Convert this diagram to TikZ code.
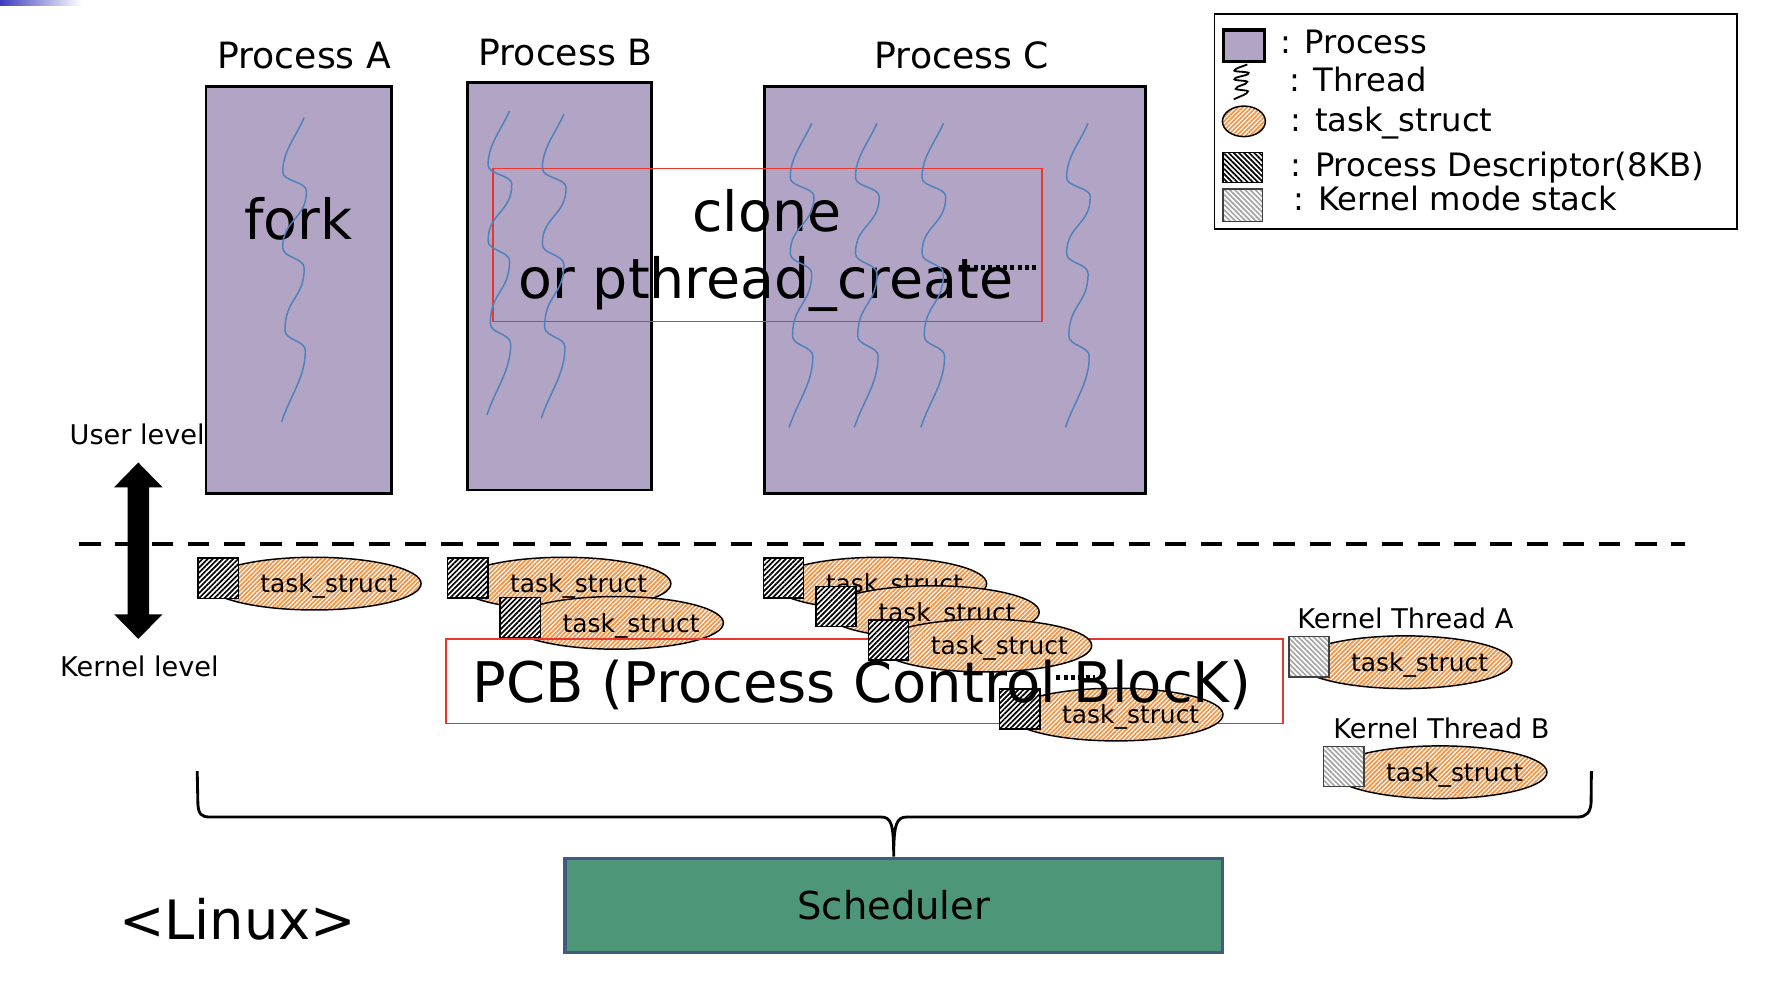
\documentclass[tikz,border=0pt]{standalone}
\usepackage{fontspec}
\setmainfont{DejaVu Sans}
\usetikzlibrary{patterns.meta,shapes.geometric}
\definecolor{procfill}{RGB}{177,164,196}
\definecolor{thrblue}{RGB}{79,129,189}
\definecolor{pcbred}{RGB}{232,55,45}
\definecolor{taskor}{RGB}{240,150,75}
\definecolor{schedg}{RGB}{78,150,120}
\definecolor{schedb}{RGB}{65,90,130}
\definecolor{kmsgray}{RGB}{165,165,165}
\definecolor{barblue}{RGB}{60,60,190}
\newcommand\fsz[1]{\fontsize{#1}{#1}\selectfont}
\tikzset{
  thread/.pic={
    \path[pic actions] (0,0) .. controls (-8,18) and (-19,30) .. (-19,48)
      .. controls (-19,56.5) and (2,56.5) .. (2,65)
      .. controls (2,90) and (-19,90) .. (-19,115)
      .. controls (-19,124) and (0,124) .. (0,133)
      .. controls (0,160) and (-17,160) .. (-17,188)
      .. controls (-17,197) and (1,197) .. (1,206)
      .. controls (1,230) and (-12,245) .. (-20,269);
  },
  procbox/.style={draw=black,line width=2.4pt,fill=procfill,inner sep=0pt,anchor=north west},
  lbl/.style={inner sep=0pt,anchor=base},
  taskell/.style={ellipse,draw=black,line width=1.3pt,minimum width=189pt,minimum height=46.6pt,inner sep=0pt,
    preaction={fill=white},pattern={Lines[angle=45,distance=2.8pt,line width=1.6pt]},pattern color=taskor},
  pdbox/.style={draw=black,line width=1.2pt,minimum width=35.5pt,minimum height=35.5pt,inner sep=0pt,anchor=north west,
    preaction={fill=white},pattern={Lines[angle=45,distance=3.2pt,line width=1.5pt]},pattern color=black},
  kmsbox/.style={pdbox,draw=black!75,pattern={Lines[angle=-45,distance=3.2pt,line width=1.5pt]},pattern color=kmsgray},
  tasktext/.style={lbl,font=\fsz{22}},
  redbox/.style={draw=pcbred,line width=1.6pt,inner sep=0pt,anchor=north west},
  dotrow/.style={line width=4pt,dash pattern=on 3.5pt off 3pt},
  threadstyle/.style={draw=thrblue,line width=1.3pt}
}
\newcommand\taskitem[4]{%
  \node[taskell] (#1e) at (#2+103.5,#3+23.3) {};
  \node[#4] (#1s) at (#2,#3) {};
  \node[tasktext] (#1t) at (#2+116.4,#3+31.5) {task\_struct};
}
\begin{document}
\begin{tikzpicture}[x=1pt,y=-1pt]
\useasboundingbox (0,0) rectangle (1567,877);
% top-left bar
\shade[left color=barblue,right color=white] (0,0) rectangle (72,4.5);

% processes
\node[procbox,minimum width=164pt,minimum height=360pt] (pA) at (181,75) {};
\node[procbox,minimum width=163pt,minimum height=360pt] (pB) at (412,72) {};
\node[procbox,minimum width=337pt,minimum height=360pt] (pC) at (675,75) {};
\node[lbl,font=\fsz{32}] (lA) at (269,60.5) {Process A};
\node[lbl,font=\fsz{32}] (lB) at (500,57.5) {Process B};
\node[lbl,font=\fsz{32}] (lC) at (850.5,60.5) {Process C};

\node[lbl,font=\fsz{49}] (fork) at (264,212) {fork};
\node[redbox,minimum width=485.1pt,minimum height=135.3pt] (cbox) at (435.2,148.2) {};
\node[lbl,font=\fsz{49}] (cl1) at (678,205) {clone};
\node[lbl,font=\fsz{49}] (cl2) at (677.4,264) {or pthread\_create};

% threads
\pic[threadstyle] at (269,104) {thread};
\pic[threadstyle] at (450.6,98) {thread};
\pic[threadstyle] at (498.6,101) {thread};
\pic[threadstyle] at (717.8,109) {thread};
\pic[threadstyle] at (775.5,109) {thread};
\pic[threadstyle] at (834.3,109) {thread};
\pic[threadstyle] at (962.2,109) {thread};

\coordinate (d1a) at (848,236.5);
\coordinate (d1b) at (918,236.5);
\draw[dotrow] (d1a) -- (d1b);

% user / kernel boundary
\coordinate (dl) at (70,481);
\coordinate (dr) at (1490,481);
\draw[line width=4.1pt,dash pattern=on 19pt off 13pt] (dl) -- (dr);
\fill (122.3,409) -- (143.7,430.9) -- (131.8,430.9) -- (131.8,543.2) -- (143.7,543.2) -- (122.3,565)
  -- (100.9,543.2) -- (112.8,543.2) -- (112.8,430.9) -- (100.9,430.9) -- cycle;
\node[lbl,font=\fsz{24}] (ul) at (121.3,393.5) {User level};
\node[lbl,font=\fsz{24}] (kl) at (123.3,598.3) {Kernel level};

% task_structs
\taskitem{tA}{174.4}{492.8}{pdbox}
\taskitem{tBa}{395.3}{492.8}{pdbox}
\taskitem{tBb}{441.7}{527.5}{pdbox}
\node[redbox,minimum width=740.3pt,minimum height=74.6pt] (pcb) at (393.3,564.4) {};
\taskitem{tCa}{674.5}{492.8}{pdbox}
\taskitem{tCb}{721}{518}{pdbox}
\taskitem{tCc}{767.4}{547.6}{pdbox}
\taskitem{tCd}{883.5}{608.6}{pdbox}
\taskitem{kA}{1139}{562.3}{kmsbox}
\taskitem{kB}{1170}{659.6}{kmsbox}
\node[lbl,font=\fsz{24}] (kAl) at (1242.8,555.5) {Kernel Thread A};
\node[lbl,font=\fsz{24}] (kBl) at (1274.7,652.8) {Kernel Thread B};
\node[lbl,font=\fsz{49.5}] (pcbt) at (762.3,621) {PCB (Process Control BlocK)};
\coordinate (d2a) at (934,599);
\coordinate (d2b) at (968,599);
\draw[dotrow] (d2a) -- (d2b);

% scheduler and brace
\node[draw=schedb,fill=schedg,line width=3pt,minimum width=581pt,minimum height=83.3pt,inner sep=0pt,font=\fsz{34}] (sch) at (790.3,800.6) {Scheduler};
\coordinate (bl) at (174.4,682);
\coordinate (br) at (1407.3,682);
\draw[line width=2.5pt] (bl) -- (175,711) .. controls (175.5,720) and (178,722.5) .. (186,722.5) -- (779,722.5)
  .. controls (788,722.5) and (790.3,728) .. (sch.north)
  .. controls (790.3,728) and (793,722.5) .. (802,722.5) -- (1395,722.5)
  .. controls (1403,722.5) and (1406.5,718) .. (1407,710) -- (br);
\node[lbl,font=\fsz{48}] (linux) at (210.2,831) {<Linux>};

% legend
\node[draw=black,line width=1.3pt,minimum width=462pt,minimum height=190pt,inner sep=0pt,anchor=north west] (leg) at (1073.3,11.8) {};
\node[procbox,line width=3pt,minimum width=36.2pt,minimum height=28pt] (lgp) at (1080.4,25) {};
\pic[draw=black,line width=1.6pt,xscale=0.6,yscale=0.115] at (1103,57) {thread};
\node[taskell,minimum width=38pt,minimum height=27pt] (lge) at (1100,107.3) {};
\node[pdbox,minimum width=35pt,minimum height=26.6pt,pattern={Lines[angle=-45,distance=3.2pt,line width=1.5pt]}] (lgd) at (1081,134) {};
\node[kmsbox,minimum width=35pt,minimum height=28.5pt] (lgk) at (1081,166.5) {};
\node[lbl,anchor=base west,font=\fsz{28.5}] (lt1) at (1132,47.2) {: Process};
\node[lbl,anchor=base west,font=\fsz{28.5}] (lt2) at (1140,81) {: Thread};
\node[lbl,anchor=base west,font=\fsz{28.5}] (lt3) at (1141,116.4) {: task\_struct};
\node[lbl,anchor=base west,font=\fsz{28.5}] (lt4) at (1141,156.2) {: Process Descriptor(8KB)};
\node[lbl,anchor=base west,font=\fsz{28.5}] (lt5) at (1144,186.3) {: Kernel mode stack};
\end{tikzpicture}
\end{document}
